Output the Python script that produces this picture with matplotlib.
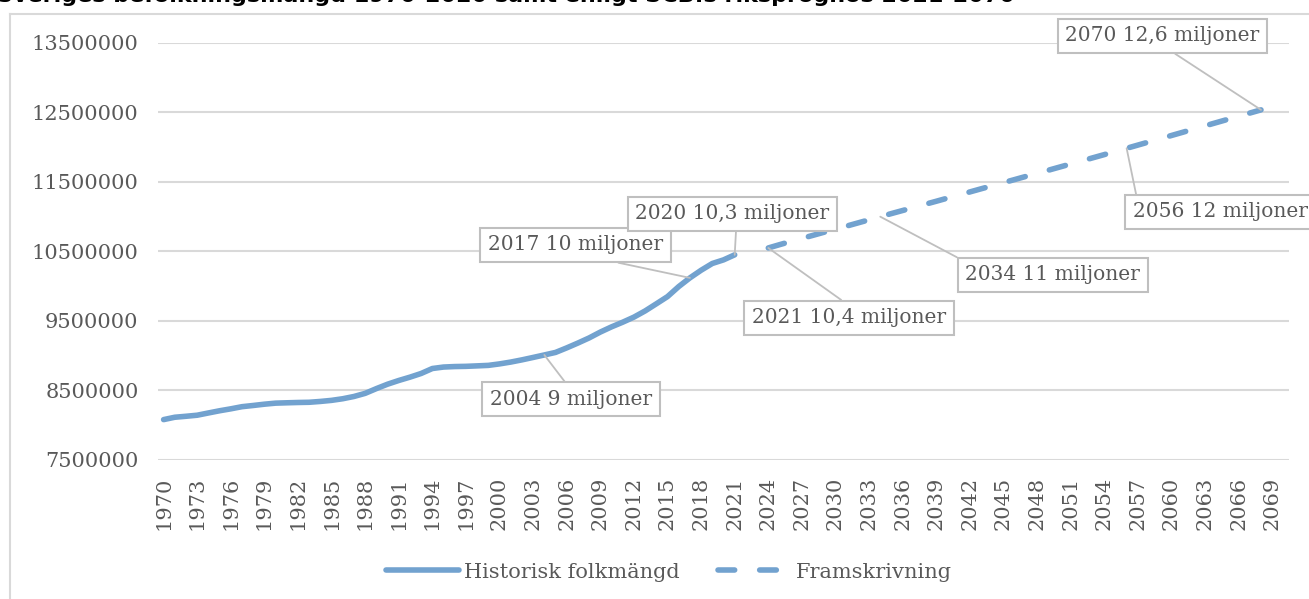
import matplotlib
matplotlib.use('Agg')
import matplotlib.pyplot as plt

title = 'Sveriges befolkningsmängd 1970-2020 samt enligt SCB:s riksprognos 2021-2070'

hist_years = list(range(1970, 2022))
hist_pop = [8081229, 8115165, 8129129, 8144428, 8176691, 8208442, 8236179, 8267116,
            8284437, 8303010, 8317937, 8323033, 8327484, 8330573, 8342621, 8358139,
            8381515, 8414083, 8458888, 8527036, 8590630, 8644119, 8692013, 8745109,
            8816381, 8837496, 8844499, 8847625, 8854322, 8861426, 8882792, 8909128,
            8940788, 8975670, 9011392, 9047752, 9113257, 9182927, 9256347, 9340682,
            9415570, 9482855, 9555893, 9644864, 9747355, 9851017, 9995153, 10120242,
            10230185, 10327589, 10379295, 10452326]

proj_years = list(range(2024, 2069))
proj_pop = [10551000, 10598000, 10644000, 10689000, 10733000, 10778000, 10822000,
            10866000, 10911000, 10956000, 11001000, 11046000, 11090000, 11134000,
            11179000, 11223000, 11268000, 11313000, 11357000, 11402000, 11446000,
            11491000, 11535000, 11580000, 11624000, 11669000, 11714000, 11759000,
            11804000, 11849000, 11894000, 11940000, 11985000, 12031000, 12077000,
            12123000, 12169000, 12215000, 12262000, 12308000, 12354000, 12400000,
            12446000, 12492000, 12538000]

yticks = [7500000, 8500000, 9500000, 10500000, 11500000, 12500000, 13500000]
xticks = list(range(1970, 2070, 3))

# data labels: text and the year of the point the leader goes to
label_text = ['2004 9 miljoner', '2017 10 miljoner', '2020 10,3 miljoner',
              '2021 10,4 miljoner', '2034 11 miljoner', '2056 12 miljoner',
              '2070 12,6 miljoner']
label_year = [2004, 2017, 2021, 2024, 2034, 2056, 2068]

blue = '#72a2cf'
grey = '#595959'
grid = '#d9d9d9'


def main():
    fig = plt.figure(figsize=(13.09, 5.99), dpi=100)
    ax = fig.add_axes([158 / 1309, 1 - 460 / 599, 1131 / 1309, 417 / 599])

    ax.plot(hist_years, hist_pop, color=blue, lw=4, solid_capstyle='round',
            label='Historisk folkmängd')
    ax.plot(proj_years, proj_pop, color=blue, lw=4, dashes=(3.0, 4.5),
            dash_capstyle='round', label='Framskrivning')

    ax.set_xlim(1969.5, 2070.5)
    ax.set_ylim(7500000, 13500000)
    ax.set_yticks(yticks)
    ax.set_yticklabels([str(v) for v in yticks], fontsize=15, color=grey,
                       family='DejaVu Serif')
    ax.set_xticks(xticks)
    ax.set_xticklabels([str(y) for y in xticks], rotation=90, fontsize=15,
                       color=grey, family='DejaVu Serif')
    ax.tick_params(axis='y', length=0, pad=14)
    ax.tick_params(axis='x', length=0, pad=12)
    ax.grid(axis='y', color=grid, lw=1.5)
    ax.set_axisbelow(True)
    for s in ax.spines.values():
        s.set_visible(False)

    # label box centres (axes fraction) and where the leader leaves the box
    box_pos = [(0.365, 0.146), (0.369, 0.516), (0.508, 0.590), (0.611, 0.341),
               (0.791, 0.444), (0.939, 0.595), (0.888, 1.017)]
    rel = [(0.5, 1), (0.52, 0), (0.52, 0), (0.52, 1), (0.04, 1), (0.03, 1), (0.5, 0)]
    years = hist_years + proj_years
    pops = hist_pop + proj_pop
    for txt, yr, pos, rp in zip(label_text, label_year, box_pos, rel):
        val = pops[years.index(yr)]
        ax.annotate(txt, xy=(yr, val), xytext=pos, textcoords='axes fraction',
                    ha='center', va='center', fontsize=14.5, color=grey,
                    family='DejaVu Serif', annotation_clip=False,
                    bbox=dict(boxstyle='square,pad=0.38', fc='white', ec='#bfbfbf', lw=1.5),
                    arrowprops=dict(arrowstyle='-', color='#bfbfbf', lw=1.3,
                                    relpos=rp, shrinkA=0, shrinkB=0))

    fig.legend(loc='center', bbox_to_anchor=(669 / 1309, 1 - 572 / 599), ncol=2,
               frameon=False, handlelength=3.5, handletextpad=0.25, columnspacing=1.8,
               prop={'family': 'DejaVu Serif', 'size': 15}, labelcolor=grey)

    # chart area border, only the top and left edges are in view
    fig.add_artist(plt.Line2D([10 / 1309, 10 / 1309], [0, 1 - 14 / 599], color=grid, lw=1.5))
    fig.add_artist(plt.Line2D([10 / 1309, 1], [1 - 14 / 599, 1 - 14 / 599], color=grid, lw=1.5))

    # title sits mostly above the picture edge, only its lower half shows
    fig.text(-3 / 1309, 1 - 2.5 / 599, title, fontsize=16, fontweight='bold',
             va='baseline', ha='left', color='black')

    fig.savefig('out.png', dpi=100)


if __name__ == '__main__':
    main()
